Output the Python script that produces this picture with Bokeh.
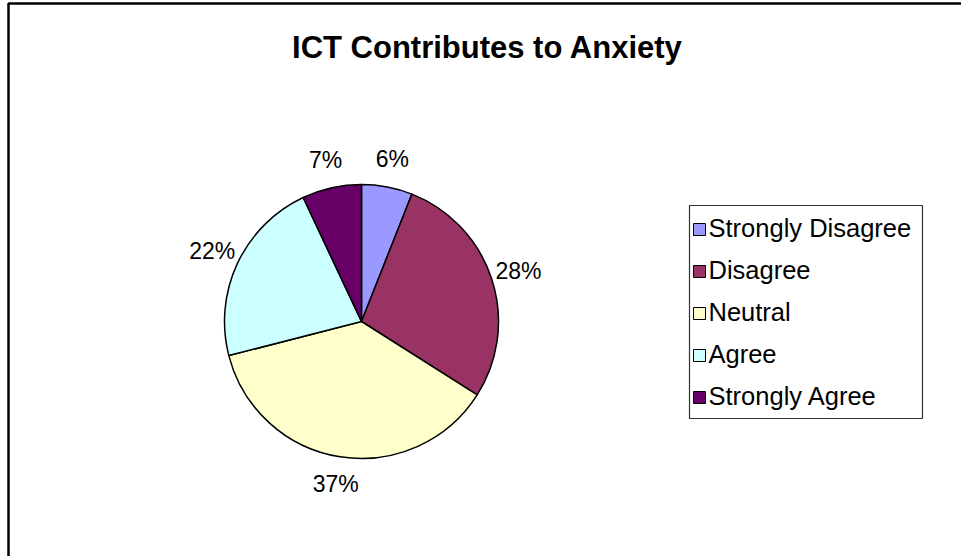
import math
from bokeh.plotting import figure
from bokeh.models import Range1d, ColumnDataSource
from bokeh.core.properties import value
from bokeh.embed import file_html
from bokeh.resources import INLINE

# ---- data ----
categories = ["Strongly Disagree", "Disagree", "Neutral", "Agree", "Strongly Agree"]
percents = [6, 28, 37, 22, 7]
colors = ["#9999FF", "#993366", "#FFFFCC", "#CCFFFF", "#660066"]
title_text = "ICT Contributes to Anxiety"

# ---- layout (pixels, y measured from top) ----
W, H = 961, 556
CX, CY, R = 361, 321, 137
LABEL_R = 165
FONT = "Liberation Sans"

def fy(y):
    return H - y

p = figure(width=W, height=H, output_backend="svg", toolbar_location=None,
           x_range=Range1d(0, W), y_range=Range1d(0, H),
           x_axis_type=None, y_axis_type=None, min_border=0,
           outline_line_color=None, background_fill_color="white",
           border_fill_color="white")
p.grid.visible = False

# chart area frame (top and left visible; right/bottom run off the window)
p.line(x=[8, 8, W + 5], y=[fy(H + 5), fy(3), fy(3)], line_color="black", line_width=2.5)

# title
p.text(x=[487], y=[fy(47)], text=[title_text], text_font=value(FONT),
       text_font_size="31px", text_font_style="bold", text_align="center",
       text_baseline="middle", text_color="black")

# pie
total = float(sum(percents))
starts, ends, lx, ly, labels = [], [], [], [], []
cum = 0.0
for v in percents:
    a0 = math.pi / 2 - 2 * math.pi * cum / total
    cum += v
    a1 = math.pi / 2 - 2 * math.pi * cum / total
    starts.append(a0)
    ends.append(a1)
    mid = (a0 + a1) / 2
    lx.append(CX + LABEL_R * math.cos(mid))
    ly.append(fy(CY) + LABEL_R * math.sin(mid))
    labels.append(f"{round(100 * v / total)}%")

src = ColumnDataSource(dict(start=starts, end=ends, color=colors,
                            x=[CX] * len(percents), y=[fy(CY)] * len(percents)))
p.wedge(x="x", y="y", radius=R, start_angle="start", end_angle="end",
        direction="clock", fill_color="color", line_color="black",
        line_width=1.5, source=src)

p.text(x=lx, y=ly, text=labels, text_font=value(FONT), text_font_size="23px",
       text_align="center", text_baseline="middle", text_color="black")

# legend
LX0, LX1, LY0, LY1 = 689, 922, 205, 418
ROW0, ROWSTEP = 227, 42
p.quad(left=[LX0], right=[LX1], top=[fy(LY0)], bottom=[fy(LY1)],
       fill_color="white", line_color="#333333", line_width=1.2)
rows = [fy(ROW0 + i * ROWSTEP) for i in range(len(categories))]
p.rect(x=[699] * len(categories), y=[r - 2 for r in rows], width=12, height=12,
       fill_color=colors, line_color="black", line_width=1)
p.text(x=[708] * len(categories), y=rows, text=categories, text_font=value(FONT),
       text_font_size="25.5px", text_align="left", text_baseline="middle",
       text_color="black")

open("out.html", "w").write(file_html(p, INLINE))
